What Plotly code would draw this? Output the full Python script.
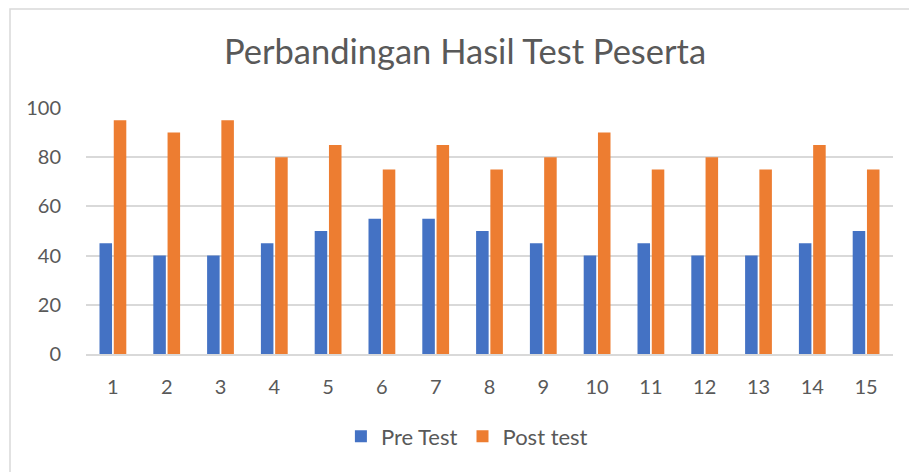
import plotly.graph_objects as go

categories = [str(i) for i in range(1, 16)]
pre_test = [45, 40, 40, 45, 50, 55, 55, 50, 45, 40, 45, 40, 40, 45, 50]
post_test = [95, 90, 95, 80, 85, 75, 85, 75, 80, 90, 75, 80, 75, 85, 75]
y_ticks = [0, 20, 40, 60, 80, 100]

FONT = "Lato"
TXT = "#595959"

fig = go.Figure()
fig.add_trace(go.Bar(x=categories, y=pre_test, name="Pre Test",
                     marker=dict(color="#4472C4", line=dict(width=0))))
fig.add_trace(go.Bar(x=categories, y=post_test, name="Post test",
                     marker=dict(color="#ED7D31", line=dict(width=0))))

fig.update_layout(
    width=909, height=472,
    margin=dict(l=86, r=16, t=108, b=118, autoexpand=False),
    paper_bgcolor="white", plot_bgcolor="white",
    barmode="group", bargap=0.47, bargroupgap=0.12,
    font=dict(family=FONT, color=TXT),
    title=dict(text="Perbandingan Hasil Test Peserta", x=465 / 909, xanchor="center",
               xref="container", yref="container", y=1 - 52 / 472, yanchor="middle",
               font=dict(family=FONT, size=34.5, color=TXT)),
    xaxis=dict(showgrid=False, showline=True, linecolor="#D9D9D9", linewidth=1.5,
               ticks="outside", ticklen=14, tickcolor="rgba(0,0,0,0)",
               tickfont=dict(size=20, color=TXT), automargin=False),
    yaxis=dict(range=[0, 100], tickvals=y_ticks, showgrid=True, gridcolor="#D9D9D9",
               gridwidth=1.5, zeroline=False, showline=False,
               ticks="outside", ticklen=20, tickcolor="rgba(0,0,0,0)",
               tickfont=dict(size=20, color=TXT), automargin=False),
    legend=dict(orientation="h", x=0.472, xanchor="center", y=-0.335, yanchor="middle",
                font=dict(size=22, color=TXT), itemwidth=30, traceorder="normal"),
    shapes=[dict(type="rect", xref="paper", yref="paper",
                 x0=(10 - 86) / 807, x1=1.3, y0=-1.0, y1=(354 - 9) / 246,
                 line=dict(color="#D9D9D9", width=1.5), fillcolor="rgba(0,0,0,0)",
                 layer="below")],
)

fig.write_html(
    "out.html",
    config={"displayModeBar": False},
    post_script="document.body.style.margin='0';document.body.style.overflow='hidden';",
)
